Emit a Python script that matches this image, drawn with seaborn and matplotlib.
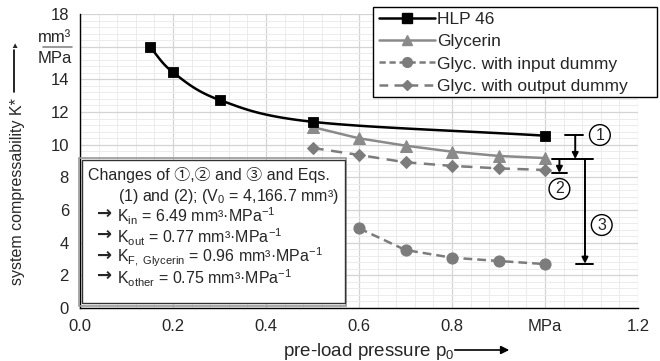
import numpy as np
import pandas as pd
import seaborn as sns
import matplotlib.pyplot as plt
from matplotlib.lines import Line2D
from matplotlib.patches import Rectangle
from matplotlib.ticker import MultipleLocator

# data
p_hlp = [0.15, 0.2, 0.3, 0.5, 1.0]
k_hlp = [16.0, 14.43, 12.74, 11.4, 10.55]
p_gly = [0.5, 0.6, 0.7, 0.8, 0.9, 1.0]
k_gly = [11.08, 10.39, 9.94, 9.57, 9.31, 9.18]
p_in = [0.6, 0.7, 0.8, 0.9, 1.0]
k_in = [4.88, 3.55, 3.08, 2.88, 2.69]
p_out = [0.5, 0.6, 0.7, 0.8, 0.9, 1.0]
k_out = [9.8, 9.37, 8.92, 8.7, 8.55, 8.45]

x_ticks = [0.0, 0.2, 0.4, 0.6, 0.8, 1.0, 1.2]
x_ticklabels = ['0.0', '0.2', '0.4', '0.6', '0.8', 'MPa', '1.2']
y_ticks = [0, 2, 4, 6, 8, 10, 12, 14, 16, 18]
y_ticklabels = ['0', '2', '4', '6', '8', '10', '12', '14', '', '18']

sns.set_style('white')
plt.rcParams['font.family'] = ['Liberation Sans', 'Noto Sans CJK JP', 'DejaVu Sans']
plt.rcParams['mathtext.fontset'] = 'custom'
plt.rcParams['mathtext.rm'] = 'Liberation Sans'
plt.rcParams['mathtext.it'] = 'Liberation Sans'

FS = 11.5
GRAY = '#8a8a8a'
DGRAY = '#7c7c7c'

fig = plt.figure(figsize=(6.6, 3.61), dpi=100)
ax = fig.add_axes([80 / 660, 1 - 308 / 361, 558 / 660, 294 / 361])


def smooth(xs, ys, n=30):
    # parametric catmull-rom, only used to draw the smoothed HLP line
    pts = np.column_stack([xs, ys]).astype(float)
    pts = np.vstack([2 * pts[0] - pts[1], pts, 2 * pts[-1] - pts[-2]])
    out = []
    t = np.linspace(0, 1, n)[:, None]
    for i in range(1, len(pts) - 2):
        p0, p1, p2, p3 = pts[i - 1], pts[i], pts[i + 1], pts[i + 2]
        seg = 0.5 * ((2 * p1) + (-p0 + p2) * t + (2 * p0 - 5 * p1 + 4 * p2 - p3) * t ** 2
                     + (-p0 + 3 * p1 - 3 * p2 + p3) * t ** 3)
        out.append(seg)
    out = np.vstack(out)
    return out[:, 0], out[:, 1]


sx, sy = smooth(p_hlp, k_hlp)
ax.plot(sx, sy, color='black', lw=1.8, zorder=4)
sns.scatterplot(x=p_hlp, y=k_hlp, marker='s', s=55, color='black', edgecolor='black', ax=ax, zorder=5)

sns.lineplot(x=p_gly, y=k_gly, color=GRAY, lw=1.8, marker='^', markersize=8,
             markeredgecolor=GRAY, ax=ax, zorder=4)
sns.lineplot(x=p_in, y=k_in, color=DGRAY, lw=1.8, marker='o', markersize=8,
             markeredgecolor=DGRAY, linestyle=(0, (3.5, 2)), ax=ax, zorder=4)
sns.lineplot(x=p_out, y=k_out, color=DGRAY, lw=1.8, marker='D', markersize=6,
             markeredgecolor=DGRAY, linestyle=(0, (4.5, 3)), ax=ax, zorder=4)

ax.set_xlim(0, 1.2)
ax.set_ylim(0, 18)
ax.set_xticks(x_ticks)
ax.set_xticklabels(x_ticklabels, fontsize=FS + 0.5)
ax.set_yticks(y_ticks)
ax.set_yticklabels(y_ticklabels, fontsize=FS + 0.5)
ax.xaxis.set_minor_locator(MultipleLocator(0.04))
ax.yaxis.set_minor_locator(MultipleLocator(0.4))
ax.grid(which='major', color='#d4d4d4', lw=0.9)
ax.grid(which='minor', color='#ececec', lw=0.7)
ax.set_axisbelow(True)
for s in ['top', 'right']:
    ax.spines[s].set_visible(False)
for s in ['left', 'bottom']:
    ax.spines[s].set_color('black')
    ax.spines[s].set_linewidth(1.0)
ax.tick_params(which='major', direction='out', length=5, width=1, color='black', pad=3)
ax.tick_params(which='minor', length=0)

# unit fraction at 16
ax.text(-0.018, 16.55, 'mm³', ha='right', va='center', fontsize=FS + 0.5, clip_on=False)
ax.text(-0.018, 15.25, 'MPa', ha='right', va='center', fontsize=FS + 0.5, clip_on=False)
ax.plot([-0.08, -0.018], [15.95, 15.95], color='#888888', lw=1.2, clip_on=False)

# axis labels with arrows
fig.text(18 / 660, 1 - 192 / 361, 'system compressability K*', rotation=90, ha='center', va='center', fontsize=FS)
fig.add_artist(plt.Line2D([14 / 660, 14 / 660], [1 - 92 / 361, 1 - 50 / 361], color='black', lw=1.2))
fig.text(14 / 660, 1 - 47 / 361, '▲', ha='center', va='center', fontsize=6)
fig.text(283 / 660, 1 - 352 / 361, 'pre-load pressure p$_{\\mathregular{0}}$', ha='left', va='center', fontsize=13.5)
ax.annotate('', xy=(512 / 660, 1 - 350 / 361), xytext=(452 / 660, 1 - 350 / 361), xycoords='figure fraction',
            arrowprops=dict(arrowstyle='-|>', color='black', lw=1.2, mutation_scale=12))

# info box
ax.add_patch(Rectangle((-0.003, 0.1), 0.574, 9.06, facecolor='none', edgecolor='#9a9a9a', lw=1.2, zorder=5, clip_on=False))
ax.add_patch(Rectangle((0.004, 0.32), 0.566, 8.74, facecolor='white', edgecolor='#333333', lw=1.0, zorder=6))
ax.text(0.017, 8.12, 'Changes of ①,② and ③ and Eqs.', ha='left', va='center', fontsize=FS, zorder=7)
ax.text(0.082, 6.8, '(1) and (2); (V$_{\\mathregular{0}}$ = 4,166.7 mm³)', ha='left', va='center', fontsize=FS, zorder=7)
k_lines = [
    (5.63, 'K$_{\\mathregular{in}}$ = 6.49 mm³·MPa$^{\\mathregular{-1}}$'),
    (4.35, 'K$_{\\mathregular{out}}$ = 0.77 mm³·MPa$^{\\mathregular{-1}}$'),
    (3.1, 'K$_{\\mathregular{F,\\ Glycerin}}$ = 0.96 mm³·MPa$^{\\mathregular{-1}}$'),
    (1.84, 'K$_{\\mathregular{other}}$ = 0.75 mm³·MPa$^{\\mathregular{-1}}$'),
]
for y, t in k_lines:
    ax.text(0.036, y + 0.12, '→', ha='left', va='center', fontsize=13, family='DejaVu Sans', fontweight='bold', zorder=7)
    ax.text(0.08, y, t, ha='left', va='center', fontsize=FS, zorder=7)

# difference brackets
bk = dict(color='black', lw=1.4, clip_on=False, zorder=6)
arr = dict(arrowstyle='-|>', color='black', lw=1.4, mutation_scale=9, shrinkA=0, shrinkB=0)
ax.plot([1.043, 1.082], [10.59, 10.59], **bk)
ax.annotate('', xy=(1.065, 9.12), xytext=(1.065, 10.59), arrowprops=arr, annotation_clip=False)
ax.plot([1.014, 1.104], [9.1, 9.1], **bk)
ax.annotate('', xy=(1.031, 8.27), xytext=(1.031, 9.1), arrowprops=arr, annotation_clip=False)
ax.plot([1.014, 1.047], [8.25, 8.25], **bk)
ax.annotate('', xy=(1.086, 2.71), xytext=(1.086, 9.1), arrowprops=arr, annotation_clip=False)
ax.plot([1.067, 1.104], [2.69, 2.69], **bk)
circ = dict(boxstyle='circle,pad=0.18', facecolor='white', edgecolor='black', lw=1.0)
for x, y, t in [(1.118, 10.59, '1'), (1.031, 7.29, '2'), (1.122, 5.08, '3')]:
    ax.text(x, y, t, ha='center', va='center', fontsize=FS, bbox=circ, zorder=7)

# legend, frame drawn separately so it can reach the right edge
fig.add_artist(Rectangle((373 / 660, 1 - 97 / 361), 284 / 660, 90 / 361, transform=fig.transFigure,
                         facecolor='white', edgecolor='black', lw=1.0, zorder=8))
handles = [
    Line2D([], [], color='black', lw=1.8, marker='s', markersize=7),
    Line2D([], [], color=GRAY, lw=1.8, marker='^', markersize=7),
    Line2D([], [], color=DGRAY, lw=1.8, marker='o', markersize=7, linestyle=(0, (2.5, 1.5))),
    Line2D([], [], color=DGRAY, lw=1.8, marker='D', markersize=5, linestyle=(0, (3.5, 2.5))),
]
labels = ['HLP 46', 'Glycerin', 'Glyc. with input dummy', 'Glyc. with output dummy']
leg = fig.legend(handles, labels, loc='upper left', bbox_to_anchor=(376 / 660, 1 - 8 / 361),
                 frameon=False, fontsize=12.5, handlelength=3.2, handletextpad=0.1,
                 borderpad=0.2, labelspacing=0.42, borderaxespad=0)
leg.set_zorder(9)

fig.savefig('out.png', dpi=100)
